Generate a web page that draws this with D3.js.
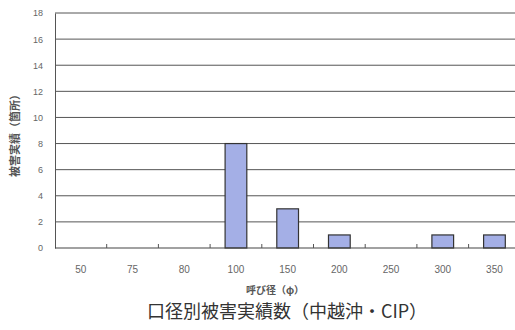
<!DOCTYPE html>
<html>
<head>
<meta charset="utf-8">
<script src="https://cdn.jsdelivr.net/npm/d3@7"></script>
<style>
  body { margin: 0; background: #fff; }
  svg { display: block; }
</style>
</head>
<body>
<script>
// 口径別被害実績数
const sizes = ["50", "75", "80", "100", "150", "200", "250", "300", "350"];
const counts = [0, 0, 0, 8, 3, 1, 0, 1, 1];
const yTicks = [0, 2, 4, 6, 8, 10, 12, 14, 16, 18];

const width = 515, height = 330;
const margin = { top: 13, right: -5, bottom: 82, left: 55 };

const svg = d3.select("body").append("svg")
    .attr("width", width)
    .attr("height", height)
    .style("font-family", "'Noto Sans CJK JP', sans-serif");

const x = d3.scaleBand()
    .domain(sizes)
    .range([margin.left, margin.left + 51.7 * sizes.length])
    .paddingInner(0.58)
    .paddingOuter(0.29);

const y = d3.scaleLinear()
    .domain([0, 18])
    .range([height - margin.bottom, margin.top]);

// グリッド線
svg.append("g")
    .selectAll("line")
    .data(yTicks.slice(1))
    .enter().append("line")
    .attr("x1", margin.left)
    .attr("x2", width)
    .attr("y1", d => y(d))
    .attr("y2", d => y(d))
    .attr("stroke", "#555")
    .attr("stroke-width", 1);

// y軸
const yAxis = svg.append("g")
    .attr("transform", `translate(${margin.left},0)`)
    .call(d3.axisLeft(y).tickValues(yTicks).tickSize(0).tickPadding(12));
yAxis.select(".domain").attr("stroke", "#555");
yAxis.selectAll("text").attr("fill", "#666").style("font-size", "9px").style("font-family", "Arial, sans-serif");

// 棒
svg.append("g")
    .selectAll("rect")
    .data(sizes.map((s, i) => ({ size: s, value: counts[i] })).filter(d => d.value > 0))
    .enter().append("rect")
    .attr("x", d => x(d.size))
    .attr("y", d => y(d.value))
    .attr("width", x.bandwidth())
    .attr("height", d => y(0) - y(d.value))
    .attr("fill", "#a4afe6")
    .attr("stroke", "#333")
    .attr("stroke-width", 1.2);

// x軸
const step = x.step();
const xAxis = svg.append("g")
    .attr("transform", `translate(0,${y(0)})`);
xAxis.append("line")
    .attr("x1", margin.left)
    .attr("x2", width)
    .attr("stroke", "#444")
    .attr("stroke-width", 1.2);
xAxis.selectAll(".tick")
    .data(sizes.slice(1))
    .enter().append("line")
    .attr("x1", d => x(d) + x.bandwidth() / 2 - step / 2)
    .attr("x2", d => x(d) + x.bandwidth() / 2 - step / 2)
    .attr("y1", -4)
    .attr("y2", 0)
    .attr("stroke", "#555");
xAxis.selectAll("text")
    .data(sizes)
    .enter().append("text")
    .attr("x", d => x(d) + x.bandwidth() / 2)
    .attr("y", 25)
    .attr("text-anchor", "middle")
    .attr("fill", "#666")
    .style("font-size", "10px")
    .style("font-family", "Arial, sans-serif")
    .text(d => d);

// 軸ラベル
svg.append("text")
    .attr("x", 275)
    .attr("y", 294)
    .attr("text-anchor", "middle")
    .attr("fill", "#555")
    .style("font-size", "10px")
    .style("font-weight", "bold")
    .text("呼び径（φ）");

svg.append("text")
    .attr("transform", "translate(19,133) rotate(-90)")
    .attr("text-anchor", "middle")
    .attr("fill", "#555")
    .style("font-size", "11px")
    .style("font-weight", "bold")
    .text("被害実績（箇所）");

// タイトル
svg.append("text")
    .attr("x", 287)
    .attr("y", 318)
    .attr("text-anchor", "middle")
    .attr("fill", "#333")
    .style("font-size", "18px")
    .text("口径別被害実績数（中越沖・CIP）");
</script>
</body>
</html>
